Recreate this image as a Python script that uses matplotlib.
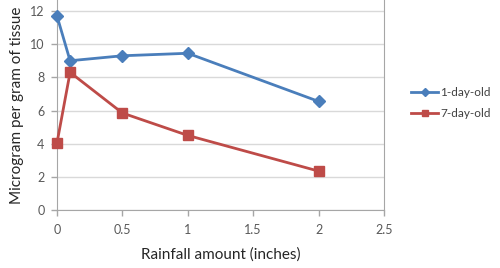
import matplotlib.pyplot as plt
from matplotlib.lines import Line2D

rainfall = [0, 0.1, 0.5, 1, 2]
one_day = [11.7, 9.0, 9.3, 9.45, 6.55]
seven_day = [4.05, 8.3, 5.85, 4.5, 2.35]
x_ticks = [0, 0.5, 1, 1.5, 2, 2.5]
y_ticks = [0, 2, 4, 6, 8, 10, 12]

plt.rcParams['font.family'] = ['Lato', 'DejaVu Sans']

fig = plt.figure(figsize=(5, 2.68), dpi=100)
ax = fig.add_axes([0.114, 0.216, 0.654, 0.784])

ax.plot(rainfall, one_day, color='#4a7ebb', lw=2, marker='D', ms=6,
        clip_on=False, zorder=3)
ax.plot(rainfall, seven_day, color='#be4b48', lw=2, marker='s', ms=7,
        clip_on=False, zorder=3)

ax.set_xlim(0, 2.5)
ax.set_ylim(0, 12.66)
ax.set_xticks(x_ticks)
ax.set_xticklabels([f'{t:g}' for t in x_ticks])
ax.set_yticks(y_ticks)
ax.yaxis.grid(True, color='#d9d9d9', lw=1)
ax.set_axisbelow(True)

ax.spines['top'].set_visible(False)
for s in ['left', 'bottom', 'right']:
    ax.spines[s].set_color('#a6a6a6')
ax.tick_params(colors='#595959', labelsize=9, length=4, width=1)
ax.tick_params(axis='both', color='#a6a6a6')
ax.tick_params(axis='x', pad=6)
ax.tick_params(axis='y', pad=5)

ax.set_xlabel('Rainfall amount (inches)', fontsize=11, color='#262626', labelpad=8)
ax.set_ylabel('Microgram per gram of tissue', fontsize=11, color='#262626', labelpad=4)

handles = [Line2D([], [], color='#4a7ebb', lw=2, marker='D', ms=4),
           Line2D([], [], color='#be4b48', lw=2, marker='s', ms=5)]
ax.legend(handles, ['1-day-old', '7-day-old'], loc='center left',
          bbox_to_anchor=(1.05, 0.51), frameon=False,
          fontsize=8.5, handlelength=2.3, handletextpad=0.2, labelspacing=0.9,
          labelcolor='#404040')

fig.savefig('out.png', dpi=100)
